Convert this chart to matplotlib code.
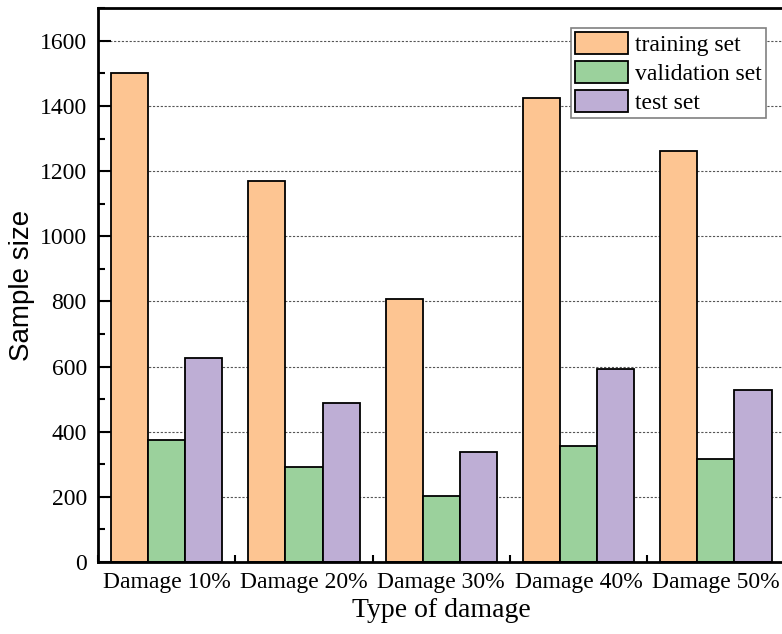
import matplotlib.pyplot as plt
import numpy as np
from matplotlib.ticker import MultipleLocator

categories = ["Damage 10%", "Damage 20%", "Damage 30%", "Damage 40%", "Damage 50%"]
training = [1500, 1170, 808, 1425, 1262]
validation = [375, 292, 203, 357, 316]
test = [625, 488, 338, 593, 528]

plt.rcParams['font.family'] = ['Liberation Serif', 'DejaVu Serif']
plt.rcParams['font.size'] = 17

fig = plt.figure(figsize=(7.82, 6.34), dpi=100)
ax = fig.add_axes([0.1253, 0.1136, 0.878, 0.8734])
ax.set_axisbelow(True)

x = np.arange(len(categories))
w = 0.27
ax.bar(x - w, training, w, color="#fdc592", edgecolor="black", lw=1.3, label="training set")
ax.bar(x, validation, w, color="#9bd19c", edgecolor="black", lw=1.3, label="validation set")
ax.bar(x + w, test, w, color="#beaed5", edgecolor="black", lw=1.3, label="test set")

ax.set_xlim([-0.5, 4.5])
ax.set_ylim([0, 1700])
ax.set_xticks(x)
ax.set_xticklabels(categories)
ax.xaxis.set_minor_locator(MultipleLocator(1, offset=0.5))
ax.set_yticks(np.arange(0, 1601, 200))
ax.yaxis.set_minor_locator(MultipleLocator(100))
ax.yaxis.grid(color="#555555", linestyle=(0, (2, 1.5)), lw=0.8)

ax.tick_params(axis="x", which="major", direction="in", length=8, width=1.5, pad=7)
ax.tick_params(axis="x", which="minor", direction="in", length=5, width=1.5)
ax.tick_params(axis="y", which="major", direction="in", length=9, width=1.5, pad=8)
ax.tick_params(axis="y", which="minor", direction="in", length=5, width=1.5)
for s in ax.spines.values():
    s.set_linewidth(2)

ax.set_ylabel("Sample size", fontsize=20, family=["Liberation Sans", "DejaVu Sans"])
ax.yaxis.set_label_coords(-0.092, 0.5)
ax.set_xlabel("Type of damage", fontsize=20, labelpad=4)

leg = ax.legend(loc="upper right", bbox_to_anchor=(0.973, 0.964), fontsize=17, fancybox=False,
                edgecolor="gray", framealpha=1, handlelength=2.25, handleheight=1.06,
                handletextpad=0.3, borderpad=0.17, labelspacing=0.2, borderaxespad=0)
leg.get_frame().set_linewidth(1.2)

plt.savefig("out.png", dpi=100)
